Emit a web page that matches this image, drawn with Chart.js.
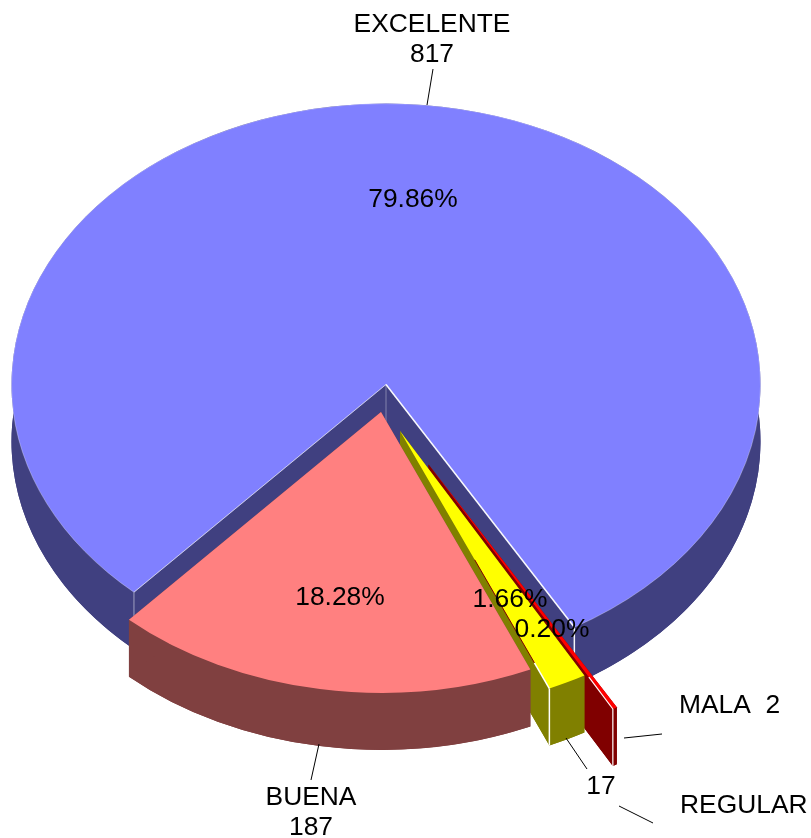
<!DOCTYPE html>
<html>
<head>
<meta charset="utf-8">
<style>
html,body{margin:0;padding:0;background:#fff;}
canvas{display:block;}
</style>
<script src="https://cdn.jsdelivr.net/npm/chart.js@4"></script>
</head>
<body>
<canvas id="torte" width="811" height="838"></canvas>
<script>
// Daten (Reihenfolge = Zeichenreihenfolge von hinten nach vorne)
const kategorien=['EXCELENTE','MALA','REGULAR','BUENA'];
const werte=[817,2,17,187];
const farben=['#8080ff','#ff0000','#ffff00','#ff8080'];
const seitenFarben=['#404080','#800000','#808000','#804040'];

// Geometrie der gekippten Torte
const mitteX=386,mitteY=384.5,radius=374.5,kippung=0.75,tiefe=57;
const versatzX=[0,42.5,14,-5];
const versatzY=[0,80,46.5,27.5];

// Textpositionen
const textStil='26.4px "Liberation Sans", Arial, sans-serif';
const prozentPos=[[413,207],[552,637],[510,607],[340,605]];
const namenPos=[[432,32,'center'],[679,713,'left'],[680,813,'left'],[311,805,'center']];
const wertPos=[[432,62,'center'],null,[601,794,'center'],[311,835,'center']];
const fuehrungslinien=[
    [433,69,427,105],
    [624,738,662,734],
    [566,738,587,769],
    [319,744,311,780],
    [619,806,653,823],
];

function randPunkt(arc,winkel,anteil=1){
    return {
        x:mitteX+arc.x+Math.cos(winkel)*radius*anteil,
        y:mitteY+(arc.y+Math.sin(winkel)*radius*anteil)*kippung,
    };
}

function linie(ctx,x1,y1,x2,y2,farbe,breite){
    ctx.beginPath();
    ctx.moveTo(x1,y1);
    ctx.lineTo(x2,y2);
    ctx.strokeStyle=farbe;
    ctx.lineWidth=breite;
    ctx.stroke();
}

// Radiale Kante auf der Oberseite plus senkrechte Kante nach unten
function kante(ctx,arc,winkel,farbe,breite,vonAnteil=0,kantenTiefe=tiefe){
    const a=randPunkt(arc,winkel,vonAnteil);
    const b=randPunkt(arc,winkel);
    linie(ctx,a.x,a.y,b.x,b.y,farbe,breite);
    linie(ctx,b.x,b.y,b.x,b.y+kantenTiefe,farbe,breite);
}

function imKippraum(ctx,dy,zeichnen){
    ctx.save();
    ctx.translate(mitteX,mitteY+dy);
    ctx.scale(1,kippung);
    zeichnen();
    ctx.restore();
}

// Seitenwand: Boden des Stuecks, Mantel und die zwei Schnittflaechen
function seitenwand(ctx,arc,farbe){
    const r=arc.outerRadius,s=arc.startAngle,e=arc.endAngle;
    const unten=arc.y+tiefe/kippung;
    const wand=Object.create(arc);
    wand.options=Object.assign({},arc.options,{backgroundColor:farbe,borderWidth:0});
    imKippraum(ctx,tiefe,()=>wand.draw(ctx));
    imKippraum(ctx,0,()=>{
        ctx.fillStyle=farbe;
        ctx.beginPath();
        ctx.arc(arc.x,arc.y,r,s,e);
        ctx.arc(arc.x,unten,r,e,s,true);
        ctx.closePath();
        ctx.fill();
        [s,e].forEach(w=>{
            ctx.beginPath();
            ctx.moveTo(arc.x,arc.y);
            ctx.lineTo(arc.x,unten);
            ctx.lineTo(arc.x+Math.cos(w)*r,unten+Math.sin(w)*r);
            ctx.lineTo(arc.x+Math.cos(w)*r,arc.y+Math.sin(w)*r);
            ctx.closePath();
            ctx.fill();
        });
    });
}

const kippPlugin={
    id:'kippPlugin',
    afterDatasetsUpdate(chart){
        chart.getDatasetMeta(0).data.forEach((arc,i)=>{
            arc.x=versatzX[i];
            arc.y=versatzY[i]/kippung;
        });
    },
    beforeDatasetsDraw(chart){
        const ctx=chart.ctx;
        chart.getDatasetMeta(0).data.forEach((arc,i)=>{
            seitenwand(ctx,arc,seitenFarben[i]);
            imKippraum(ctx,0,()=>arc.draw(ctx));

            // helle Kanten wie im Original
            if(i===0){
                kante(ctx,arc,arc.startAngle,'rgba(255,255,255,0.5)',1);
                kante(ctx,arc,arc.endAngle,'rgba(255,255,255,0.95)',1.5);
                const m=randPunkt(arc,arc.startAngle,0);
                linie(ctx,m.x,m.y,m.x,m.y+tiefe,'rgba(255,255,255,0.35)',1);
            }
            if(i===1){
                kante(ctx,arc,arc.endAngle,'#ffffff',1.2,0.87);
            }
            if(i===2){
                kante(ctx,arc,arc.endAngle,'#ffffff',1.5,0.9);
                const a=randPunkt(arc,arc.endAngle,0.5);
                const b=randPunkt(arc,arc.endAngle,0.9);
                linie(ctx,a.x,a.y,b.x,b.y,'#800000',1);
            }
        });
        return false;
    },
    afterDraw(chart){
        const ctx=chart.ctx;
        const summe=werte.reduce((a,b)=>a+b,0);
        ctx.save();
        fuehrungslinien.forEach(l=>linie(ctx,l[0],l[1],l[2],l[3],'#000000',1));
        ctx.font=textStil;
        ctx.fillStyle='#000000';
        ctx.textBaseline='alphabetic';
        kategorien.forEach((name,i)=>{
            const prozent=(werte[i]/summe*100).toFixed(2)+'%';
            ctx.textAlign='center';
            ctx.fillText(prozent,prozentPos[i][0],prozentPos[i][1]);
            ctx.textAlign=namenPos[i][2];
            // MALA steht mit dem Wert in einer Zeile
            const text=wertPos[i]?name:name+'  '+werte[i];
            ctx.fillText(text,namenPos[i][0],namenPos[i][1]);
            if(wertPos[i]){
                ctx.textAlign=wertPos[i][2];
                ctx.fillText(String(werte[i]),wertPos[i][0],wertPos[i][1]);
            }
        });
        ctx.restore();
    },
};

new Chart(document.getElementById('torte'),{
    type:'pie',
    data:{
        labels:kategorien,
        datasets:[{
            data:werte,
            backgroundColor:farben,
            borderWidth:[1,0,0,0],
            borderColor:'rgba(255,255,255,0.35)',
            radius:radius,
            clip:false,
        }],
    },
    options:{
        responsive:false,
        animation:false,
        rotation:222.3,
        events:[],
        plugins:{legend:{display:false},tooltip:{enabled:false}},
    },
    plugins:[kippPlugin],
});
</script>
</body>
</html>
